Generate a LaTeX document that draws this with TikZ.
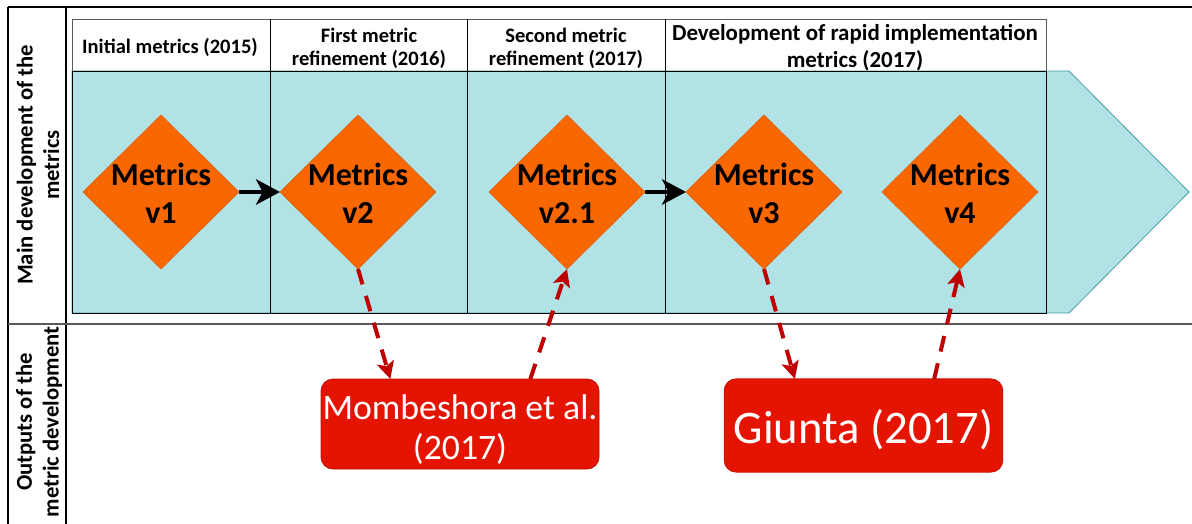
\documentclass[tikz,border=0pt]{standalone}
\usepackage{fontspec}
\setmainfont{Carlito}
\usetikzlibrary{shapes.geometric,arrows.meta}
\definecolor{lane}{RGB}{176,226,230}
\definecolor{laneedge}{RGB}{74,158,166}
\definecolor{gemorange}{RGB}{249,104,0}
\definecolor{gemedge}{RGB}{226,96,10}
\definecolor{boxred}{RGB}{228,20,0}
\definecolor{boxedge}{RGB}{196,16,0}
\definecolor{linkred}{RGB}{192,0,0}
\definecolor{sepgray}{RGB}{90,90,90}
\tikzset{
  gem/.style={diamond, fill=gemorange, draw=gemedge, line width=0.5pt,
    minimum width=117pt, minimum height=115.5pt, inner sep=0pt, outer sep=0pt},
  gemtext/.style={font=\bfseries\fontsize{24}{29}\selectfont, align=center, text=black, inner sep=0pt},
  outbox/.style={rectangle, rounded corners=9pt, fill=boxred, draw=boxedge, line width=0.6pt,
    inner sep=0pt, outer sep=0pt},
  boxtext/.style={text=white, align=center, inner sep=0pt},
  colhead/.style={font=\bfseries\fontsize{15.4}{17.5}\selectfont, align=center, inner sep=0pt},
  sidehead/.style={font=\bfseries\fontsize{17}{20}\selectfont, align=center, rotate=90, inner sep=0pt},
  flow/.style={line width=3pt, -{Stealth[length=18pt,width=19pt,inset=5pt]}},
  feed/.style={draw=linkred, line width=3pt, dash pattern=on 12pt off 9pt,
    -{Stealth[length=13pt,width=13pt,inset=3pt]}},
  cell/.style={draw=black, line width=0.6pt},
}
\begin{document}
\begin{tikzpicture}[x=0.75pt,y=-0.75pt]
\useasboundingbox (0,0) rectangle (1192,524);
\fill[white] (0,0) rectangle (1192,524);

% swimlane body with the arrow-shaped end
\fill[lane, draw=laneedge, line width=0.6pt]
  (72,71) -- (1069,71) -- (1189,192) -- (1069,313) -- (72,313) -- cycle;

% column cells
\draw[cell, draw=sepgray] (72,19) rectangle (1046,71);
\draw[cell] (72,71) rectangle (270,313);
\draw[cell] (270,71) rectangle (467,313);
\draw[cell] (467,71) rectangle (665,313);
\draw[cell] (665,71) rectangle (1046,313);
\draw[cell] (270,19) -- (270,71);
\draw[cell] (467,19) -- (467,71);
\draw[cell] (665,19) -- (665,71);

% table frame
\draw[line width=1.5pt] (8,7) -- (1192,7);
\draw[line width=1.2pt] (8,7) -- (8,524);
\draw[line width=1.2pt] (66,7) -- (66,524);
\draw[draw=sepgray, line width=1.8pt] (8,324) -- (1192,324);

% column headings
\node[colhead] (h1) at (170,47) {Initial metrics (2015)};
\node[colhead] (h2) at (369,48.5) {First metric\\refinement (2016)};
\node[colhead] (h3) at (566,48.5) {Second metric\\refinement (2017)};
\node[colhead, font=\bfseries\fontsize{17.2}{20}\selectfont] (h4) at (855,48)
  {Development of rapid implementation\\metrics (2017)};

% row headings
\node[sidehead] (r1) at (38,165) {Main development of the\\metrics};
\node[sidehead] (r2) at (39,422) {Outputs of the\\metric development};

% metric versions
\node[gem] (v1) at (161,192) {};
\node[gem] (v2) at (358,192) {};
\node[gem] (v21) at (567,192) {};
\node[gem] (v3) at (764,192) {};
\node[gem] (v4) at (960,192) {};
\node[gemtext] at ([yshift=-1pt]v1.center) {Metrics\\v1};
\node[gemtext] at ([yshift=-1pt]v2.center) {Metrics\\v2};
\node[gemtext] at ([yshift=-1pt]v21.center) {Metrics\\v2.1};
\node[gemtext] at ([yshift=-1pt]v3.center) {Metrics\\v3};
\node[gemtext] at ([yshift=-1pt]v4.center) {Metrics\\v4};

% outputs
\node[outbox, minimum width=208.5pt, minimum height=67.5pt] (mom) at (460,424) {};
\node[boxtext, font=\fontsize{26.8}{30}\selectfont] at ([yshift=-4pt]mom.center)
  {Mombeshora et al.\\(2017)};
\node[outbox, minimum width=209pt, minimum height=70pt] (giu) at (863.5,425.5) {};
\node[boxtext, font=\fontsize{35}{40}\selectfont] at ([yshift=-3pt]giu.center)
  {Giunta (2017)};

\coordinate (momin) at ([xshift=52pt]mom.north west);
\coordinate (momout) at ([xshift=157pt]mom.north west);
\coordinate (giuin) at ([xshift=53pt]giu.north west);
\coordinate (giuout) at ([xshift=157.5pt]giu.north west);

% development flow
\draw[flow] (v1.east) -- (v2.west);
\draw[flow] (v21.east) -- (v3.west);

% feedback between versions and outputs
\draw[feed] (v2.south) -- (momin);
\draw[feed] (momout) -- (v21.south);
\draw[feed] (v3.south) -- (giuin);
\draw[feed] (giuout) -- (v4.south);
\end{tikzpicture}
\end{document}
